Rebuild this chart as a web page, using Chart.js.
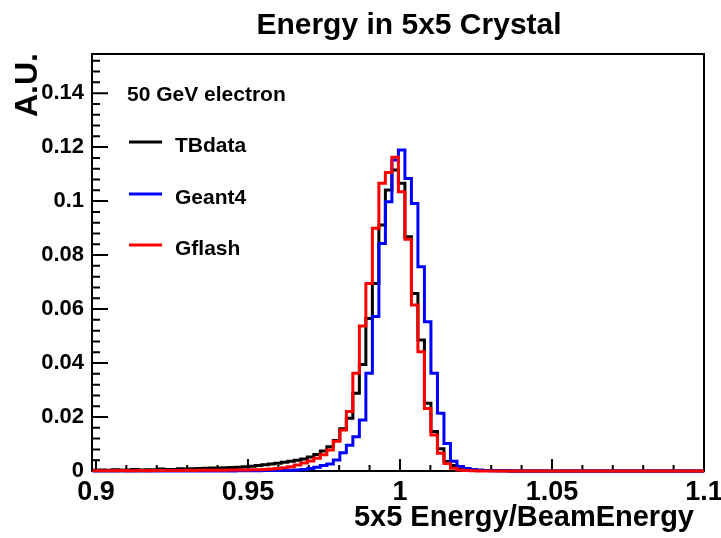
<!DOCTYPE html>
<html>
<head>
<meta charset="utf-8">
<title>Energy in 5x5 Crystal</title>
<script src="https://cdn.jsdelivr.net/npm/chart.js@4.4.1/dist/chart.umd.min.js"></script>
<style>
  html, body { margin: 0; padding: 0; background: #fff; }
  #c { display: block; }
</style>
</head>
<body>
<canvas id="c" width="721" height="538"></canvas>
<script>
// binning of the three histograms: 94 bins of equal width
const binLow = 0.8989;
const binWidth = 0.00214;

// bin contents (normalised), left to right
const tbData = [
  0.0003, 0.0004, 0.0003, 0.0005, 0.0004, 0.0004, 0.0006, 0.0004, 0.0005, 0.0005,
  0.0007, 0.0006, 0.0006, 0.0008, 0.0007, 0.0008, 0.0009,
  0.0010, 0.0011, 0.0011, 0.0012, 0.0013, 0.0014, 0.0016, 0.0018, 0.0020, 0.0023,
  0.0026, 0.0029, 0.0032, 0.0036, 0.0040, 0.0044, 0.0052, 0.0061, 0.0074, 0.0090,
  0.0113, 0.0157, 0.0195, 0.0288, 0.0395, 0.0565, 0.0695, 0.0911, 0.1041, 0.1115,
  0.1066, 0.0868, 0.0658, 0.0485, 0.0251, 0.0146, 0.0082, 0.0035, 0.0020, 0.0012,
  0.0008, 0.0005,
  0.0003, 0.0002, 0.0002, 0.0001, 0.0001, 0, 0, 0, 0, 0,
  0, 0, 0, 0, 0, 0, 0, 0, 0, 0,
  0, 0, 0, 0, 0, 0, 0, 0, 0, 0,
  0, 0, 0, 0, 0
];

const geant4 = [
  0, 0, 0, 0, 0, 0, 0, 0, 0, 0,
  0, 0, 0, 0, 0, 0, 0, 0, 0, 0,
  0, 0,
  0.0001, 0.0001, 0.0001, 0.0001, 0.0002, 0.0002, 0.0002, 0.0003,
  0.0003, 0.0004, 0.0006, 0.0009, 0.0014, 0.0020, 0.0026,
  0.0041, 0.0068, 0.0095, 0.0127, 0.0189, 0.0362, 0.0572, 0.0843, 0.0998, 0.1152,
  0.1189, 0.1084, 0.0991, 0.0757, 0.0553, 0.0362, 0.0214, 0.0102, 0.0036, 0.0017,
  0.0009, 0.0005, 0.0003,
  0.0002, 0.0001, 0.0001, 0.0001, 0, 0, 0, 0, 0, 0,
  0, 0, 0, 0, 0, 0, 0, 0, 0, 0,
  0, 0, 0, 0, 0, 0, 0, 0, 0, 0,
  0, 0, 0, 0
];

const gflash = [
  0.0001, 0.0001, 0.0001, 0.0001, 0.0002, 0.0001, 0.0001, 0.0002, 0.0001, 0.0002,
  0.0002, 0.0002, 0.0002, 0.0002, 0.0003, 0.0002, 0.0003, 0.0003, 0.0003, 0.0003,
  0.0003, 0.0004, 0.0004, 0.0004, 0.0005,
  0.0005, 0.0006, 0.0007, 0.0009, 0.0012, 0.0016, 0.0022, 0.0030, 0.0037, 0.0047,
  0.0060, 0.0078,
  0.0110, 0.0152, 0.0220, 0.0362, 0.0537, 0.0695, 0.0899, 0.1066, 0.1106, 0.1162,
  0.1035, 0.0859, 0.0615, 0.0442, 0.0232, 0.0133, 0.0066, 0.0028, 0.0010, 0.0004,
  0.0002, 0.0001,
  0, 0, 0, 0, 0, 0, 0, 0, 0, 0,
  0, 0, 0, 0, 0, 0, 0, 0, 0, 0,
  0, 0, 0, 0, 0, 0, 0, 0, 0, 0,
  0, 0, 0, 0, 0
];

const seriesNames = ['TBdata', 'Geant4', 'Gflash'];
const seriesColors = ['#000000', '#0000ff', '#ff0000'];
const legendHeader = '50 GeV electron';

const xRange = [0.8987, 1.1];
const yRange = [0, 0.1545];
const xMajor = [0.9, 0.95, 1.0, 1.05, 1.1];
const yMajor = [0, 0.02, 0.04, 0.06, 0.08, 0.1, 0.12, 0.14];

const xMinor = [];
for (let k = 90; k <= 110; k++) if (k % 5) xMinor.push(k / 100);
const yMinor = [];
for (let k = 1; k <= 38; k++) if (k % 5) yMinor.push(k * 0.004);

const FONT = '"Liberation Sans", Arial, Helvetica, sans-serif';

// turn bin contents into points for a stepped outline
function toSteps(values) {
  const pts = values.map((v, i) => ({ x: binLow + i * binWidth, y: v }));
  pts.push({ x: binLow + values.length * binWidth, y: values[values.length - 1] });
  return pts;
}

function fmt(v) {
  return String(Number(v.toFixed(3)));
}

// frame and inward ticks, ROOT style
const frame = {
  id: 'frame',
  beforeDatasetsDraw(chart) {
    const { ctx, chartArea: a, scales: { x, y } } = chart;
    ctx.save();
    ctx.strokeStyle = '#000';
    ctx.lineWidth = 2;
    ctx.strokeRect(a.left, a.top, a.right - a.left, a.bottom - a.top);
    ctx.beginPath();
    xMajor.forEach(v => {
      const px = x.getPixelForValue(v);
      ctx.moveTo(px, a.bottom); ctx.lineTo(px, a.bottom - 12);
    });
    xMinor.forEach(v => {
      const px = x.getPixelForValue(v);
      ctx.moveTo(px, a.bottom); ctx.lineTo(px, a.bottom - 6);
    });
    yMajor.forEach(v => {
      const py = y.getPixelForValue(v);
      ctx.moveTo(a.left, py); ctx.lineTo(a.left + 16, py);
    });
    yMinor.forEach(v => {
      const py = y.getPixelForValue(v);
      ctx.moveTo(a.left, py); ctx.lineTo(a.left + 8, py);
    });
    ctx.stroke();
    ctx.restore();
  }
};

// title, axis titles and the legend box
const labels = {
  id: 'labels',
  afterDraw(chart) {
    const { ctx } = chart;
    ctx.save();
    ctx.fillStyle = '#000';
    ctx.textBaseline = 'alphabetic';

    ctx.font = 'bold 30px ' + FONT;
    ctx.textAlign = 'center';
    ctx.fillText('Energy in 5x5 Crystal', 409, 34);

    ctx.font = 'bold 29px ' + FONT;
    ctx.textAlign = 'right';
    ctx.fillText('5x5 Energy/BeamEnergy', 694, 526);

    ctx.save();
    ctx.translate(37, 53);
    ctx.rotate(-Math.PI / 2);
    ctx.font = 'bold 32px ' + FONT;
    ctx.textAlign = 'right';
    ctx.fillText('A.U.', 0, 0);
    ctx.restore();

    ctx.font = 'bold 21px ' + FONT;
    ctx.textAlign = 'left';
    ctx.fillText(legendHeader, 127, 101);

    const rows = [142, 194, 245];
    chart.data.datasets.forEach((ds, i) => {
      ctx.strokeStyle = ds.borderColor;
      ctx.lineWidth = 3;
      ctx.beginPath();
      ctx.moveTo(129, rows[i]);
      ctx.lineTo(162, rows[i]);
      ctx.stroke();
      ctx.fillText(ds.label, 175, rows[i] + 10);
    });
    ctx.restore();
  }
};

const datasets = [tbData, geant4, gflash].map((vals, i) => ({
  label: seriesNames[i],
  data: toSteps(vals),
  borderColor: seriesColors[i],
  borderWidth: 3,
  stepped: true,
  pointRadius: 0,
  fill: false,
  borderJoinStyle: 'miter',
  clip: 3,
  order: 3 - i
}));

new Chart(document.getElementById('c'), {
  type: 'line',
  data: { datasets },
  options: {
    responsive: false,
    animation: false,
    devicePixelRatio: 1,
    layout: { padding: { left: 0, top: 54, right: 17, bottom: 0 } },
    plugins: { legend: { display: false }, tooltip: { enabled: false } },
    scales: {
      x: {
        type: 'linear',
        min: xRange[0],
        max: xRange[1],
        grid: { display: false, drawTicks: false },
        border: { display: false },
        afterBuildTicks: s => { s.ticks = xMajor.map(v => ({ value: v })); },
        afterFit: s => { s.height = 67; s.paddingLeft = 0; s.paddingRight = 0; },
        ticks: {
          autoSkip: false,
          maxRotation: 0,
          padding: 5,
          color: '#000',
          font: { family: FONT, size: 27, weight: 'bold' },
          callback: v => fmt(v)
        }
      },
      y: {
        type: 'linear',
        min: yRange[0],
        max: yRange[1],
        grid: { display: false, drawTicks: false },
        border: { display: false },
        afterBuildTicks: s => { s.ticks = yMajor.map(v => ({ value: v })); },
        afterFit: s => { s.width = 92; },
        ticks: {
          padding: 8,
          color: '#000',
          font: { family: FONT, size: 22, weight: 'bold' },
          callback: v => fmt(v)
        }
      }
    }
  },
  plugins: [frame, labels]
});
</script>
</body>
</html>
